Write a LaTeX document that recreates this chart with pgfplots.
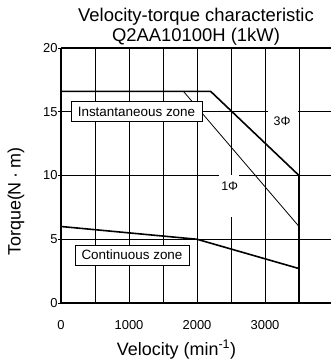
\documentclass[border=0pt]{standalone}
\usepackage{pgfplots}
\pgfplotsset{compat=1.18}
\usepackage{fontspec}
\setmainfont{Liberation Sans}
\begin{document}
\begin{tikzpicture}
\begin{axis}[
  scale only axis,
  width=270bp, height=255bp,
  xmin=0, xmax=3970, ymin=0, ymax=20,
  axis x line*=box, axis y line*=left,
  axis line style={line width=1.3bp},
  xtick={0,1000,2000,3000},
  minor xtick={500,1500,2500,3500},
  ytick={0,5,10,15,20},
  grid=both,
  major grid style={black, line width=0.6bp},
  minor grid style={black, line width=0.6bp},
  xtick style={draw=none},
  ytick style={black, line width=0.6bp},
  ytick pos=left,
  tick align=outside,
  major tick length=3bp,
  /pgf/number format/assume math mode=true,
  /pgf/number format/set thousands separator={},
  ticklabel style={font=\fontsize{13}{13}\selectfont},
  xticklabel style={yshift=-10.5bp},
  yticklabel style={xshift=3bp},
  title={Velocity-torque characteristic\\Q2AA10100H (1kW)},
  title style={at={(axis description cs:0.5,1)}, anchor=south, inner sep=0pt, yshift=-3bp, align=center, font=\fontsize{18.5}{19.6}\selectfont},
  xlabel={Velocity (min\textsuperscript{-1})},
  xlabel style={at={(axis description cs:0.428,0)}, anchor=base, yshift=-52bp, font=\fontsize{18}{18}\selectfont},
  ylabel={Torque(N\hspace{4bp}·\hspace{4bp}m)},
  ylabel style={at={(axis description cs:-0.1667,0.398)}, anchor=center, font=\fontsize{18}{18}\selectfont},
  clip=false,
]
% 3-phase instantaneous limit
\addplot[black, line width=1.6bp] coordinates {(0,16.6) (2200,16.6) (3500,10) (3500,0)};
% 1-phase instantaneous limit
\addplot[black, line width=0.8bp] coordinates {(1800,16.6) (3500,6)};
% continuous limit
\addplot[black, line width=1.6bp] coordinates {(0,6) (2000,5) (3500,2.7)};
% labels
\fill[white] (axis cs:2324,6.75) rectangle (axis cs:2618,10.05);
\node[font=\fontsize{12.5}{12.5}\selectfont] at (axis cs:2481,9.18) {1Φ};
\fill[white] (axis cs:3044,13.6) rectangle (axis cs:3485,15.3);
\node[font=\fontsize{12.5}{12.5}\selectfont] at (axis cs:3250,14.27) {3Φ};
\node[draw=black, line width=0.9bp, fill=white, minimum width=131bp, minimum height=20bp, inner sep=0pt, font=\fontsize{13.5}{13.5}\selectfont] at (axis cs:1110,15.0) {Instantaneous zone};
\node[draw=black, line width=0.9bp, fill=white, minimum width=114bp, minimum height=20bp, inner sep=0pt, font=\fontsize{13.5}{13.5}\selectfont] at (axis cs:1044,3.765) {Continuous zone};
\end{axis}
\pgfresetboundingbox
\path (current axis.south west) ++(-61bp,-60bp) rectangle ([yshift=48bp]current axis.north east);
\end{tikzpicture}
\end{document}
